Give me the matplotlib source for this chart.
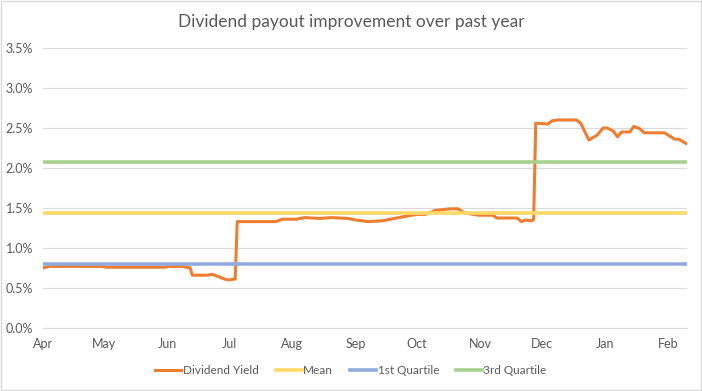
import matplotlib.pyplot as plt
import matplotlib.dates as mdates
from matplotlib.ticker import PercentFormatter
import pandas as pd

# Dividend yield (%)
dates = ['2017-04-01', '2017-04-04', '2017-04-30', '2017-05-02', '2017-05-31', '2017-06-01',
         '2017-06-08', '2017-06-12', '2017-06-13', '2017-06-20', '2017-06-23', '2017-06-27',
         '2017-06-29', '2017-07-01', '2017-07-03', '2017-07-04', '2017-07-05', '2017-07-24',
         '2017-07-27', '2017-08-03', '2017-08-07', '2017-08-14', '2017-08-20', '2017-08-28',
         '2017-09-01', '2017-09-07', '2017-09-14', '2017-09-20', '2017-09-26', '2017-10-01',
         '2017-10-05', '2017-10-10', '2017-10-17', '2017-10-21', '2017-10-24', '2017-10-31',
         '2017-11-07', '2017-11-09', '2017-11-19', '2017-11-21', '2017-11-23', '2017-11-26',
         '2017-11-27', '2017-11-28', '2017-12-04', '2017-12-06', '2017-12-09', '2017-12-18',
         '2017-12-20', '2017-12-24', '2017-12-28', '2017-12-31', '2018-01-02', '2018-01-05',
         '2018-01-07', '2018-01-09', '2018-01-13', '2018-01-15', '2018-01-18', '2018-01-20',
         '2018-01-30', '2018-02-04', '2018-02-06', '2018-02-10']
dividend_yield = [0.75, 0.77, 0.77, 0.76, 0.76, 0.77,
                  0.77, 0.75, 0.66, 0.66, 0.67, 0.63,
                  0.61, 0.60, 0.61, 0.61, 1.33, 1.33,
                  1.36, 1.36, 1.38, 1.37, 1.38, 1.37,
                  1.35, 1.33, 1.34, 1.37, 1.40, 1.42,
                  1.42, 1.47, 1.49, 1.49, 1.44, 1.41,
                  1.41, 1.375, 1.375, 1.33, 1.35, 1.34,
                  1.36, 2.56, 2.55, 2.59, 2.60, 2.60,
                  2.56, 2.35, 2.41, 2.50, 2.50, 2.46,
                  2.39, 2.45, 2.45, 2.52, 2.49, 2.44,
                  2.44, 2.36, 2.36, 2.30]
mean_yield = 1.44
first_quartile = 0.80
third_quartile = 2.075

x = pd.to_datetime(dates)

plt.rcParams['font.family'] = ['Lato', 'DejaVu Sans']
fig = plt.figure(figsize=(7.02, 3.91), dpi=100)
ax = fig.add_axes([43 / 702, 1 - 328 / 391, 644 / 702, 280 / 391])

ax.plot(x, dividend_yield, color='#ED7D31', lw=2.2, label='Dividend Yield', zorder=3)
ax.axhline(mean_yield, color='#FFD966', lw=2.6, label='Mean', zorder=4)
ax.axhline(first_quartile, color='#8FAADC', lw=2.6, label='1st Quartile', zorder=4)
ax.axhline(third_quartile, color='#A9D18E', lw=2.6, label='3rd Quartile', zorder=4)

ax.set_xlim(pd.Timestamp('2017-04-01'), pd.Timestamp('2018-02-10'))
ax.set_ylim(0, 3.5)
ax.set_yticks([0, 0.5, 1.0, 1.5, 2.0, 2.5, 3.0, 3.5])
ax.yaxis.set_major_formatter(PercentFormatter(decimals=1))
ax.xaxis.set_major_locator(mdates.MonthLocator())
ax.xaxis.set_major_formatter(mdates.DateFormatter('%b'))

ax.grid(axis='y', color='#D9D9D9', lw=0.8)
ax.set_axisbelow(True)
for s in ['top', 'right', 'left']:
    ax.spines[s].set_visible(False)
ax.spines['bottom'].set_color('#D9D9D9')
ax.tick_params(length=0, colors='#595959', labelsize=9, pad=7)

fig.suptitle('Dividend payout improvement over past year', y=0.965,
             fontsize=12.5, color='#595959')
fig.legend(loc='center', bbox_to_anchor=(0.5, 1 - 371 / 391), ncol=4, frameon=False,
           fontsize=8.5, labelcolor='#595959', handlelength=2.2, columnspacing=1.4,
           handletextpad=0.15)

# chart border
fig.patches.append(plt.Rectangle((0.001, 0.002), 0.997, 0.996, transform=fig.transFigure,
                                 fill=False, edgecolor='#D9D9D9', lw=1))

fig.savefig('out.png', dpi=100)
